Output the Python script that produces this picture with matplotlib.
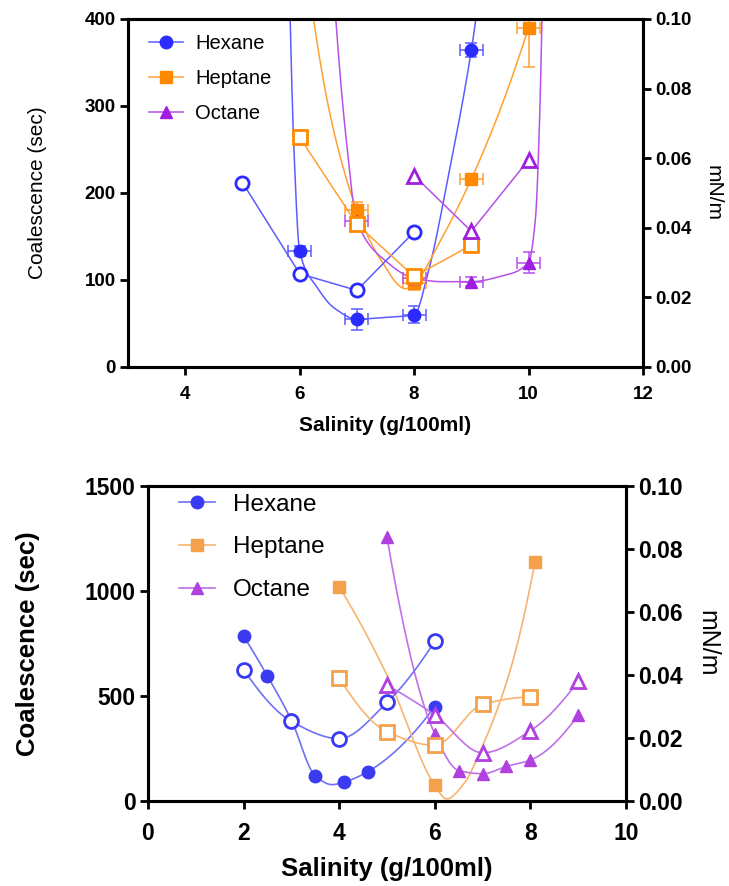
import numpy as np
import matplotlib
matplotlib.use('Agg')
import matplotlib.pyplot as plt
from matplotlib.lines import Line2D

plt.rcParams['font.family'] = ['Liberation Sans', 'DejaVu Sans']

# ---- top panel: coalescence (filled) and IFT (open) ----
top_hex_x = [6, 7, 8, 9]
top_hex_y = [133, 55, 60, 364]
top_hex_yerr = [6, 12, 10, 8]
top_hex_fit_x = [5.83, 5.9, 6.0, 6.3, 6.6, 7.0, 7.5, 8.0, 8.25, 8.6, 9.0, 9.12]
top_hex_fit_y = [410, 250, 133, 92, 68, 55, 57, 60, 110, 220, 364, 420]
top_hex_ift_x = [5, 6, 7, 8]
top_hex_ift = [0.053, 0.0268, 0.022, 0.0388]

top_hep_x = [7, 8, 9, 10]
top_hep_y = [180, 96, 216, 390]
top_hep_yerr_lo = [10, 8, 5, 45]
top_hep_yerr_hi = [10, 8, 5, 15]
top_hep_fit_x = [6.22, 6.5, 6.8, 7.0, 7.4, 7.85, 8.0, 8.5, 9.0, 9.5, 10.0]
top_hep_fit_y = [410, 300, 220, 180, 125, 90, 96, 150, 216, 295, 390]
top_hep_ift_x = [6, 7, 8, 9]
top_hep_ift = [0.066, 0.041, 0.026, 0.035]

top_oct_x = [7, 8, 9, 10]
top_oct_y = [168, 102, 98, 120]
top_oct_yerr = [8, 6, 5, 12]
top_oct_fit_x = [6.62, 6.8, 7.0, 7.5, 8.0, 8.5, 9.0, 9.5, 10.0, 10.12, 10.2, 10.24]
top_oct_fit_y = [410, 270, 168, 122, 102, 98, 98, 104, 120, 170, 300, 420]
top_oct_ift_x = [8, 9, 10]
top_oct_ift = [0.055, 0.039, 0.0595]

# ---- bottom panel ----
bot_hex_x = [2, 2.5, 3, 3.5, 4.1, 4.6, 6]
bot_hex_y = [785, 595, 385, 120, 90, 140, 450]
bot_hex_fit_x = [2, 2.5, 3, 3.5, 3.85, 4.1, 4.6, 6]
bot_hex_fit_y = [785, 595, 385, 120, 78, 90, 140, 450]
bot_hex_ift_x = [2, 3, 4, 5, 6]
bot_hex_ift = [0.0417, 0.0253, 0.0198, 0.0313, 0.0507]

bot_hep_x = [4, 6, 8.1]
bot_hep_y = [1020, 75, 1140]
bot_hep_fit_x = [4, 5, 6, 6.25, 6.6, 7, 7.6, 8.1]
bot_hep_fit_y = [1020, 600, 75, 10, 80, 262, 640, 1140]
bot_hep_ift_x = [4, 5, 6, 7, 8]
bot_hep_ift = [0.039, 0.022, 0.0177, 0.0307, 0.033]

bot_oct_x = [5, 6, 6.5, 7, 7.5, 8, 9]
bot_oct_y = [1255, 320, 145, 130, 165, 195, 410]
bot_oct_ift_x = [5, 6, 7, 8, 9]
bot_oct_ift = [0.0367, 0.0273, 0.0153, 0.0223, 0.038]

names = ['Hexane', 'Heptane', 'Octane']
markers = ['o', 's', '^']
top_colors = ['#2b2bff', '#ff8a00', '#a01ee0']
top_line_colors = ['#5c5cff', '#ffa033', '#b650e8']
bot_colors = ['#3a3af0', '#f5a04a', '#b040e0']
bot_line_colors = ['#7070f5', '#f7b470', '#c070e8']


def pchip_slopes(x, y):
    h = np.diff(x)
    d = np.diff(y) / h
    n = len(x)
    m = np.zeros(n)
    if n == 2:
        m[:] = d[0]
        return m
    for k in range(1, n - 1):
        if d[k - 1] * d[k] <= 0:
            m[k] = 0
        else:
            w1 = 2 * h[k] + h[k - 1]
            w2 = h[k] + 2 * h[k - 1]
            m[k] = (w1 + w2) / (w1 / d[k - 1] + w2 / d[k])
    for k, (h0, h1, d0, d1) in ((0, (h[0], h[1], d[0], d[1])), (n - 1, (h[-1], h[-2], d[-1], d[-2]))):
        e = ((2 * h0 + h1) * d0 - h0 * d1) / (h0 + h1)
        if np.sign(e) != np.sign(d0):
            e = 0
        elif np.sign(d0) != np.sign(d1) and abs(e) > abs(3 * d0):
            e = 3 * d0
        m[k] = e
    return m


def smooth(xs, ys, n=60):
    xs = np.asarray(xs, float)
    ys = np.asarray(ys, float)
    m = pchip_slopes(xs, ys)
    out_x, out_y = [], []
    t = np.linspace(0, 1, n)
    h00 = 2 * t**3 - 3 * t**2 + 1
    h10 = t**3 - 2 * t**2 + t
    h01 = -2 * t**3 + 3 * t**2
    h11 = t**3 - t**2
    for i in range(len(xs) - 1):
        h = xs[i + 1] - xs[i]
        out_x.append(xs[i] + t * h)
        out_y.append(h00 * ys[i] + h10 * h * m[i] + h01 * ys[i + 1] + h11 * h * m[i + 1])
    return np.concatenate(out_x), np.concatenate(out_y)


def style_axes(ax, ax2, fs, xpad):
    for a in (ax, ax2):
        for s in a.spines.values():
            s.set_linewidth(2.2)
        a.tick_params(direction='out', length=6, width=2, labelsize=fs, pad=3)
        a.tick_params(axis='x', pad=xpad)
        for lab in a.get_xticklabels() + a.get_yticklabels():
            lab.set_fontweight('bold')


fig = plt.figure(figsize=(7.29, 8.86), dpi=100)

# ---------------- top ----------------
ax = fig.add_axes([0.1756, 0.5858, 0.7064, 0.3928])
ax2 = ax.twinx()
fills = [(top_hex_x, top_hex_y, [top_hex_yerr, top_hex_yerr], top_hex_fit_x, top_hex_fit_y, top_hex_ift_x, top_hex_ift),
         (top_hep_x, top_hep_y, [top_hep_yerr_lo, top_hep_yerr_hi], top_hep_fit_x, top_hep_fit_y, top_hep_ift_x, top_hep_ift),
         (top_oct_x, top_oct_y, [top_oct_yerr, top_oct_yerr], top_oct_fit_x, top_oct_fit_y, top_oct_ift_x, top_oct_ift)]
for i, (x, y, yerr, fx, fy, ix, iv) in enumerate(fills):
    sx, sy = smooth(fx, fy)
    ax.plot(sx, sy, color=top_line_colors[i], lw=1.1, zorder=2)
    ax.errorbar(x, y, xerr=0.2, yerr=yerr, fmt=markers[i], ms=9 if i == 0 else 8.5,
                color=top_colors[i], ecolor=top_line_colors[i], elinewidth=1.1,
                capsize=4, capthick=1.1, zorder=3)
    ax2.plot(ix, iv, marker=markers[i], ms=9.5, mfc='white', mec=top_colors[i], mew=2,
             color=top_line_colors[i], lw=1.1)

ax.set_xlim(3, 12)
ax.set_ylim(0, 400)
ax2.set_ylim(0, 0.10)
ax.set_xticks([4, 6, 8, 10, 12])
ax.set_yticks([0, 100, 200, 300, 400])
ax2.set_yticks([0, 0.02, 0.04, 0.06, 0.08, 0.10])
ax2.set_yticklabels(['0.00', '0.02', '0.04', '0.06', '0.08', '0.10'])
style_axes(ax, ax2, 13.5, 8)
ax.set_xlabel('Salinity (g/100ml)', fontsize=15, fontweight='bold', labelpad=9)
ax.set_ylabel('Coalescence (sec)', fontsize=15, labelpad=27)
ax2.set_ylabel('mN/m', fontsize=15, rotation=-90, labelpad=22)

handles = [Line2D([], [], color=top_line_colors[i], lw=1.1, marker=markers[i], ms=9,
                  mfc=top_colors[i], mec=top_colors[i]) for i in range(3)]
ax.legend(handles, names, loc='upper left', frameon=False, fontsize=14.5,
          handlelength=1.7, labelspacing=0.8, handletextpad=0.6,
          bbox_to_anchor=(0.005, 1.01))

# ---------------- bottom ----------------
bx = fig.add_axes([0.203, 0.0959, 0.6557, 0.3556])
bx2 = bx.twinx()
bots = [(bot_hex_x, bot_hex_y, bot_hex_fit_x, bot_hex_fit_y, bot_hex_ift_x, bot_hex_ift),
        (bot_hep_x, bot_hep_y, bot_hep_fit_x, bot_hep_fit_y, bot_hep_ift_x, bot_hep_ift),
        (bot_oct_x, bot_oct_y, bot_oct_x, bot_oct_y, bot_oct_ift_x, bot_oct_ift)]
for i, (x, y, fx, fy, ix, iv) in enumerate(bots):
    sx, sy = smooth(fx, fy)
    bx.plot(sx, sy, color=bot_line_colors[i], lw=1.2, zorder=2)
    bx.plot(x, y, markers[i], ms=9, color=bot_colors[i], zorder=3)
    sx, sy = smooth(ix, iv)
    bx2.plot(sx, sy, color=bot_line_colors[i], lw=1.2)
    bx2.plot(ix, iv, markers[i], ms=10, mfc='white', mec=bot_colors[i], mew=2)

bx.set_xlim(0, 10)
bx.set_ylim(0, 1500)
bx2.set_ylim(0, 0.10)
bx.set_xticks([0, 2, 4, 6, 8, 10])
bx.set_yticks([0, 500, 1000, 1500])
bx2.set_yticks([0, 0.02, 0.04, 0.06, 0.08, 0.10])
bx2.set_yticklabels(['0.00', '0.02', '0.04', '0.06', '0.08', '0.10'])
style_axes(bx, bx2, 16.5, 9)
bx.set_xlabel('Salinity (g/100ml)', fontsize=18.5, fontweight='bold', labelpad=9)
bx.set_ylabel('Coalescence (sec)', fontsize=18.5, fontweight='bold', labelpad=32)
bx2.set_ylabel('mN/m', fontsize=18, rotation=-90, labelpad=26)

handles = [Line2D([], [], color=bot_line_colors[i], lw=1.2, marker=markers[i], ms=9,
                  mfc=bot_colors[i], mec=bot_colors[i]) for i in range(3)]
bx.legend(handles, names, loc='upper left', frameon=False, fontsize=17.5,
          handlelength=1.45, labelspacing=0.85, handletextpad=0.75,
          bbox_to_anchor=(0.02, 1.045))

fig.savefig('out.png', dpi=100)
